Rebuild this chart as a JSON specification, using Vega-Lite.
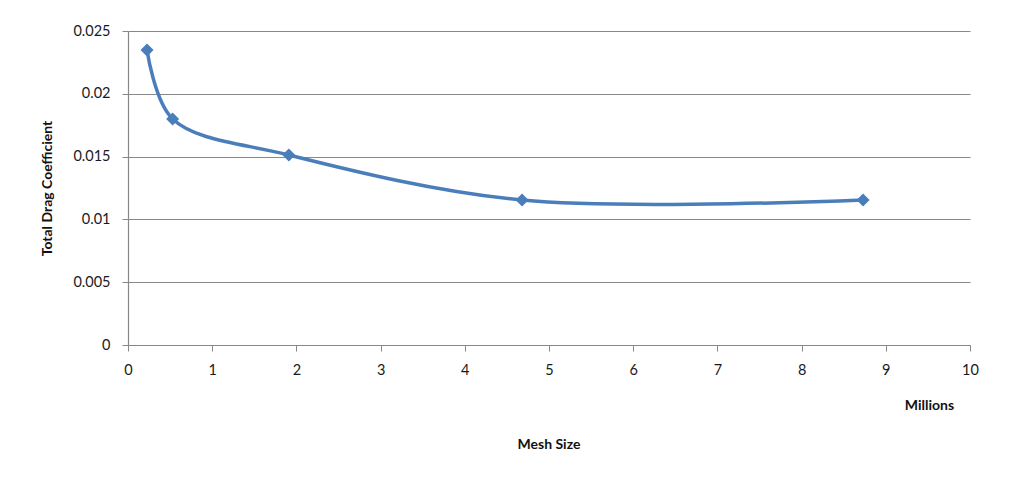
{
  "$schema": "https://vega.github.io/schema/vega-lite/v6.json",
  "autosize": "none",
  "width": 842,
  "height": 314,
  "padding": {"left": 128, "top": 31, "right": 52, "bottom": 133},
  "background": "white",
  "config": {
    "view": {"stroke": null},
    "font": "Lato",
    "axis": {"labelFont": "Lato", "titleFont": "Lato", "labelColor": "#1a1a1a", "titleColor": "#111111", "labelFontSize": 14.5, "titleFontSize": 14, "titleFontWeight": "bold", "domainColor": "#888888", "tickColor": "#888888", "gridColor": "#888888", "gridWidth": 1, "domainWidth": 1.2}
  },
  "title": {"text": "Mesh Size", "orient": "bottom", "anchor": "middle", "font": "Lato", "fontSize": 14, "fontWeight": "bold", "color": "#111111", "offset": 26},
  "data": {"values": [
    {"mesh": 0.226, "cd": 0.02349},
    {"mesh": 0.53, "cd": 0.0180},
    {"mesh": 1.91, "cd": 0.01513},
    {"mesh": 4.68, "cd": 0.01154},
    {"mesh": 8.73, "cd": 0.01154}
  ]},
  "encoding": {
    "x": {"field": "mesh", "type": "quantitative", "scale": {"domain": [0, 10], "nice": false},
      "axis": {"values": [0,1,2,3,4,5,6,7,8,9,10], "grid": false, "labelFlush": false, "tickSize": 6, "labelPadding": 12, "title": "Millions", "titleX": 801, "titleY": 64, "titleAnchor": null, "titleAlign": "center", "titleBaseline": "alphabetic"}},
    "y": {"field": "cd", "type": "quantitative", "scale": {"domain": [0, 0.025], "nice": false},
      "axis": {"values": [0, 0.005, 0.01, 0.015, 0.02, 0.025], "labelExpr": "datum.value == 0 ? '0' : format(datum.value, '.3~f')", "labelFlush": false, "tickSize": 6, "labelPadding": 12, "title": "Total Drag Coefficient", "titleX": -81, "titleY": 157, "titleAngle": -90, "titleAlign": "center", "titleBaseline": "middle"}}
  },
  "layer": [
    {"mark": {"type": "line", "interpolate": "catmull-rom", "color": "#4a7ebb", "strokeWidth": 3.5}},
    {"mark": {"type": "point", "shape": "diamond", "filled": true, "color": "#4a7ebb", "opacity": 1, "size": 170}}
  ]
}
